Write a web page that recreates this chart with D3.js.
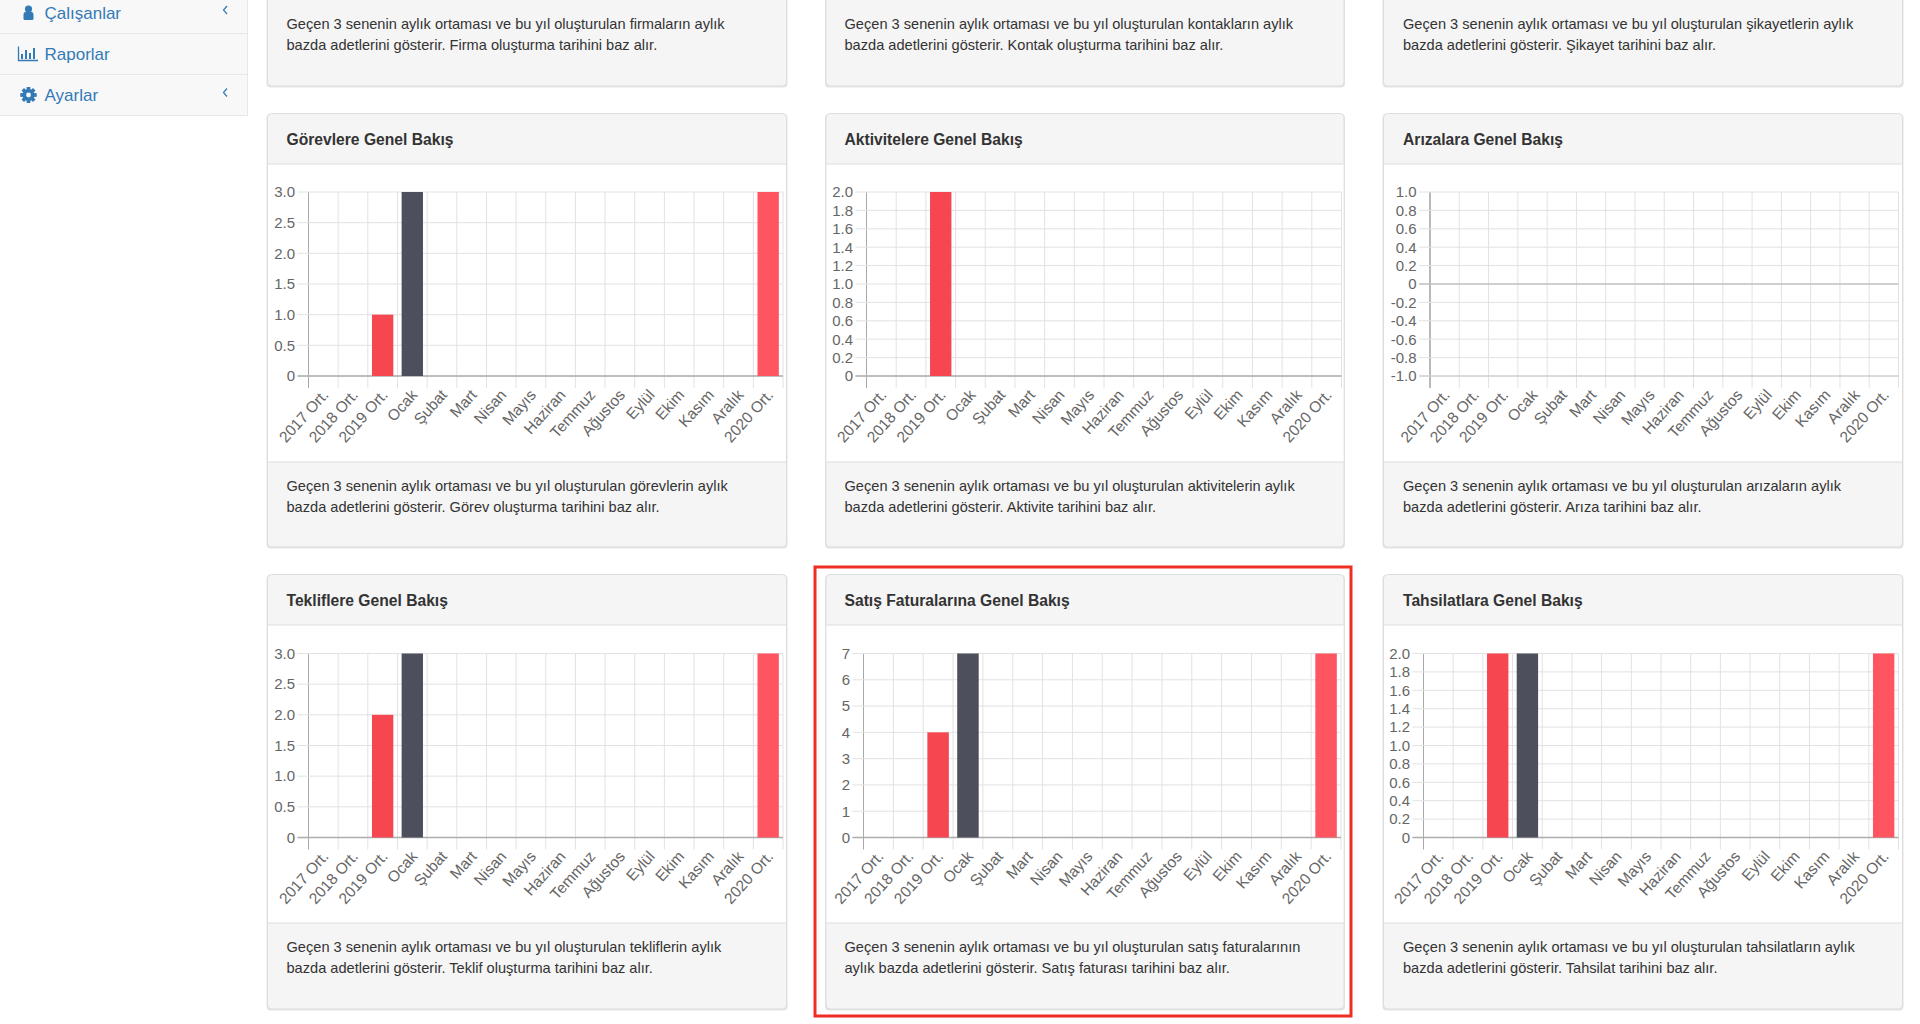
<!DOCTYPE html>
<html lang="tr"><head><meta charset="utf-8"><title>Genel Bakış</title>
<script src="https://cdn.jsdelivr.net/npm/d3@7/dist/d3.min.js"></script>
<style>html,body{margin:0;padding:0;background:#fff;overflow:hidden}svg{display:block;font-family:"Liberation Sans",Arial,sans-serif}</style>
</head><body><svg id="c" width="1920" height="1024"></svg>
<script>
const categories=["2017 Ort.","2018 Ort.","2019 Ort.","Ocak","Şubat","Mart","Nisan","Mayıs","Haziran","Temmuz","Ağustos","Eylül","Ekim","Kasım","Aralık","2020 Ort."];
const gorevler=[0,0,1,3,0,0,0,0,0,0,0,0,0,0,0,3];
const aktiviteler=[0,0,2,0,0,0,0,0,0,0,0,0,0,0,0,0];
const arizalar=[0,0,0,0,0,0,0,0,0,0,0,0,0,0,0,0];
const teklifler=[0,0,2,3,0,0,0,0,0,0,0,0,0,0,0,3];
const satislar=[0,0,4,7,0,0,0,0,0,0,0,0,0,0,0,7];
const tahsilatlar=[0,0,2,2,0,0,0,0,0,0,0,0,0,0,0,2];
const ticks05to3=[0,0.5,1,1.5,2,2.5,3];
const ticks02to2=[0,0.2,0.4,0.6,0.8,1,1.2,1.4,1.6,1.8,2];
const ticksNeg1to1=[-1,-0.8,-0.6,-0.4,-0.2,0,0.2,0.4,0.6,0.8,1];
const ticks0to7=[0,1,2,3,4,5,6,7];
const topNotes=[
 ["Geçen 3 senenin aylık ortaması ve bu yıl oluşturulan firmaların aylık","bazda adetlerini gösterir. Firma oluşturma tarihini baz alır."],
 ["Geçen 3 senenin aylık ortaması ve bu yıl oluşturulan kontakların aylık","bazda adetlerini gösterir. Kontak oluşturma tarihini baz alır."],
 ["Geçen 3 senenin aylık ortaması ve bu yıl oluşturulan şikayetlerin aylık","bazda adetlerini gösterir. Şikayet tarihini baz alır."]];
const charts=[
 {title:"Görevlere Genel Bakış",values:gorevler,ticks:ticks05to3,fmt:"1",note:["Geçen 3 senenin aylık ortaması ve bu yıl oluşturulan görevlerin aylık","bazda adetlerini gösterir. Görev oluşturma tarihini baz alır."]},
 {title:"Aktivitelere Genel Bakış",values:aktiviteler,ticks:ticks02to2,fmt:"1",note:["Geçen 3 senenin aylık ortaması ve bu yıl oluşturulan aktivitelerin aylık","bazda adetlerini gösterir. Aktivite tarihini baz alır."]},
 {title:"Arızalara Genel Bakış",values:arizalar,ticks:ticksNeg1to1,fmt:"1",note:["Geçen 3 senenin aylık ortaması ve bu yıl oluşturulan arızaların aylık","bazda adetlerini gösterir. Arıza tarihini baz alır."]},
 {title:"Tekliflere Genel Bakış",values:teklifler,ticks:ticks05to3,fmt:"1",note:["Geçen 3 senenin aylık ortaması ve bu yıl oluşturulan tekliflerin aylık","bazda adetlerini gösterir. Teklif oluşturma tarihini baz alır."]},
 {title:"Satış Faturalarına Genel Bakış",values:satislar,ticks:ticks0to7,fmt:"0",note:["Geçen 3 senenin aylık ortaması ve bu yıl oluşturulan satış faturalarının","aylık bazda adetlerini gösterir. Satış faturası tarihini baz alır."]},
 {title:"Tahsilatlara Genel Bakış",values:tahsilatlar,ticks:ticks02to2,fmt:"1",note:["Geçen 3 senenin aylık ortaması ve bu yıl oluşturulan tahsilatların aylık","bazda adetlerini gösterir. Tahsilat tarihini baz alır."]}];
const menu=["Çalışanlar","Raporlar","Ayarlar"];

// layout
const colX=[[267,787],[825.5,1344.5],[1383,1903]];
const textX=[286.5,844.5,1403];
const plotX=[[308.5,783],[866.5,1341.5],[1430,1898.5],[308.5,783],[863.5,1341],[1423.5,1898.5]];
const rowsY=[{top:113,head:164,py0:192,py1:376,foot:462,bot:547.5},{top:574,head:625,py0:653.5,py1:837.5,foot:923,bot:1009.5}];
const svg=d3.select("#c");
const FS=14.6;

// sidebar
const side=svg.append("g");
side.append("rect").attr("x",-2).attr("y",-2).attr("width",249.5).attr("height",117.5).attr("fill","#f8f8f8").attr("stroke","#e7e7e7");
[33.5,74.5].forEach(y=>side.append("line").attr("x1",0).attr("x2",247).attr("y1",y).attr("y2",y).attr("stroke","#e7e7e7"));
const my=[12.5,54,95];
menu.forEach((m,i)=>{
 side.append("text").attr("x",44.5).attr("y",my[i]+6).attr("font-size",17).attr("fill","#337ab7").text(m);
});
const blue="#337ab7";
side.append("circle").attr("cx",28.5).attr("cy",9).attr("r",3.6).attr("fill",blue);
side.append("path").attr("d","M23.5 19 L23.5 15 Q23.5 12 25.5 12 L31.5 12 Q33.5 12 33.5 15 L33.5 19 Q33.5 20 32 20 L25 20 Q23.5 20 23.5 19Z").attr("fill",blue);
side.append("path").attr("d","M18.5 46.5 V60.5 H38").attr("fill","none").attr("stroke",blue).attr("stroke-width",1.3);
[[22,54,59],[26,50,59],[30,53,59],[34,48,59]].forEach(b=>side.append("line").attr("x1",b[0]).attr("x2",b[0]).attr("y1",b[1]).attr("y2",b[2]).attr("stroke",blue).attr("stroke-width",2));
const gear=side.append("g").attr("transform","translate(28.5,95)");
d3.range(8).forEach(i=>gear.append("rect").attr("x",-1.7).attr("y",-8).attr("width",3.4).attr("height",16).attr("fill",blue).attr("transform",`rotate(${i*45})`));
gear.append("circle").attr("r",6).attr("fill",blue);
gear.append("circle").attr("r",2.4).attr("fill","#f8f8f8");
[10,92.5].forEach(y=>side.append("path").attr("d",`M227 ${y-4} L223.5 ${y} L227 ${y+4}`).attr("fill","none").attr("stroke",blue).attr("stroke-width",1.2));

function panelBox(x0,x1,y0,y1){
 svg.append("rect").attr("x",x0-.5).attr("y",y0+1).attr("width",x1-x0+1).attr("height",y1-y0).attr("rx",4).attr("fill","#e4e4e4");
 svg.append("rect").attr("x",x0+.5).attr("y",y0+.5).attr("width",x1-x0-1).attr("height",y1-y0-1).attr("rx",4).attr("fill","#f5f5f5").attr("stroke","#ddd");
}
function note(lines,x,base){
 lines.forEach((t,i)=>svg.append("text").attr("x",x).attr("y",base+i*21).attr("font-size",FS).attr("fill","#333").text(t));
}
topNotes.forEach((n,i)=>{
 panelBox(colX[i][0],colX[i][1],-40,86.5);
 note(n,textX[i],29);
});

charts.forEach((c,i)=>{
 const col=colX[i%3],r=rowsY[Math.floor(i/3)],px=plotX[i];
 panelBox(col[0],col[1],r.top,r.bot);
 svg.append("rect").attr("x",col[0]+1).attr("y",r.head).attr("width",col[1]-col[0]-2).attr("height",r.foot-r.head).attr("fill","#fff");
 [r.head,r.foot].forEach(y=>svg.append("line").attr("x1",col[0]+1).attr("x2",col[1]-1).attr("y1",y).attr("y2",y).attr("stroke","#ddd"));
 svg.append("text").attr("x",textX[i%3]).attr("y",r.top+32).attr("font-size",15.65).attr("font-weight","bold").attr("fill","#333").text(c.title);
 note(c.note,textX[i%3],r.foot+29);

 const x=d3.scaleBand().domain(categories).range(px).paddingInner(.28).paddingOuter(.14);
 const y=d3.scaleLinear().domain(d3.extent(c.ticks)).range([r.py1,r.py0]);
 const g=svg.append("g");
 const edges=d3.range(categories.length+1).map(k=>px[0]+k*x.step());
 const negative=y.domain()[0]<0;
 g.selectAll(null).data(edges).join("line").attr("x1",d=>d).attr("x2",d=>d).attr("y1",r.py0).attr("y2",r.py1+12)
  .attr("stroke",(d,k)=>k===0?"#a8a8a8":"#e2e2e2").attr("stroke-width",(d,k)=>k===0&&negative?1.6:1);
 g.selectAll(null).data(c.ticks).join("line").attr("x1",px[0]-11).attr("x2",px[1]).attr("y1",d=>y(d)).attr("y2",d=>y(d))
  .attr("stroke","#e2e2e2");
 g.append("line").attr("x1",px[0]-11).attr("x2",px[1]).attr("y1",y(0)).attr("y2",y(0)).attr("stroke","#adadad").attr("stroke-width",negative?1:1.3);
 if(negative) g.append("line").attr("x1",px[0]-11).attr("x2",px[1]).attr("y1",r.py1).attr("y2",r.py1).attr("stroke","#c4c4c4");
 const ya=d3.axisLeft(y).tickValues(c.ticks).tickSize(0).tickPadding(13.5)
   .tickFormat(d=>d===0?"0":d3.format("."+c.fmt+"f")(d).replace("−","-"));
 const ag=svg.append("g").attr("transform",`translate(${px[0]},0)`).call(ya);
 ag.select(".domain").remove();
 ag.selectAll("text").attr("font-size",15).attr("font-family",'"Liberation Sans",Arial,sans-serif').attr("fill","#666");
 const xa=d3.axisBottom(x).tickSize(0).tickPadding(0);
 const bg=svg.append("g").attr("transform",`translate(0,${r.py1})`).call(xa);
 bg.select(".domain").remove();
 bg.selectAll(".tick text").attr("font-size",15.5).attr("font-family",'"Liberation Sans",Arial,sans-serif').attr("fill","#666")
  .attr("text-anchor","end").attr("dy",0).attr("y",0)
  .attr("transform","translate(6,19.5) rotate(-48)");
 const palette={ "Ocak":"#4d505c","2020 Ort.":"#fe5560" };
 svg.append("g").selectAll("rect").data(c.values.map((v,k)=>({v,k})).filter(d=>d.v!==0)).join("rect")
  .attr("x",d=>x(categories[d.k])).attr("width",x.bandwidth())
  .attr("y",d=>y(d.v)).attr("height",d=>y(0)-y(d.v))
  .attr("fill",d=>palette[categories[d.k]]||"#f64650");
});
svg.append("rect").attr("x",815).attr("y",567).attr("width",536).attr("height",449).attr("fill","none").attr("stroke","#ef2d22").attr("stroke-width",3);
</script></body></html>
